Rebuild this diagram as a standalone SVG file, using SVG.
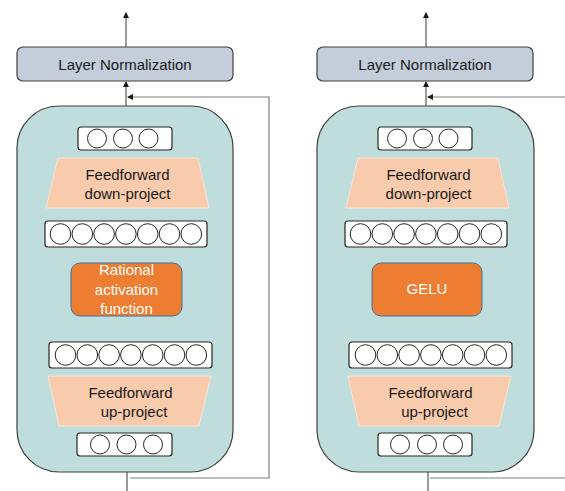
<svg xmlns="http://www.w3.org/2000/svg" width="565" height="491" viewBox="0 0 565 491">
<style>
.ln{fill:#c4cedb;stroke:#3f3f3f;stroke-width:1.2}
.panel{fill:#bedddc;stroke:#3f3f3f;stroke-width:1.2}
.vec{fill:#fff;stroke:#262626;stroke-width:1.2}
.c{fill:#fff;stroke:#262626;stroke-width:1}
.trap{fill:#f8cbad;stroke:#fbe5d6;stroke-width:1}
.act{fill:#ed7d31;stroke:#41719c;stroke-width:1}
.t{font-family:"Liberation Sans",Arial,sans-serif;font-size:15px;fill:#1a1a1a;text-anchor:middle}
.tw{font-family:"Liberation Sans",Arial,sans-serif;font-size:15px;fill:#fff;text-anchor:middle}
.arr{stroke:#595959;stroke-width:1.2;fill:none}
.res{stroke:#7f7f7f;stroke-width:1.2;fill:none}
</style>
<defs>
<marker id="ah" markerWidth="6" markerHeight="6" refX="5" refY="3" orient="auto" markerUnits="userSpaceOnUse">
<path d="M0,0 L6,3 L0,6 Z" fill="#1a1a1a"/>
</marker>
</defs>
<g id="connectors">
<line class="arr" x1="126" y1="47" x2="126" y2="13" marker-end="url(#ah)"/>
<line class="arr" x1="126" y1="127" x2="126" y2="82" marker-end="url(#ah)"/>
<line class="arr" x1="127" y1="491" x2="127" y2="458" marker-end="url(#ah)"/>
<polyline class="res" points="130,478 269,478 269,97 128,97" marker-end="url(#ah)"/>
<line class="arr" x1="426" y1="47" x2="426" y2="13" marker-end="url(#ah)"/>
<line class="arr" x1="426" y1="127" x2="426" y2="82" marker-end="url(#ah)"/>
<line class="arr" x1="428" y1="491" x2="428" y2="458" marker-end="url(#ah)"/>
<polyline class="res" points="565,97 428,97" marker-end="url(#ah)"/>
<line class="res" x1="430" y1="478" x2="565" y2="478"/>
</g>
<g id="ln-left"><rect class="ln" x="17" y="47" width="216" height="34" rx="6"/><text class="t" x="125" y="70">Layer Normalization</text></g>
<g id="ln-right"><rect class="ln" x="317" y="47" width="216" height="34" rx="6"/><text class="t" x="425" y="70">Layer Normalization</text></g>
<g id="panel-left"><rect class="panel" x="17" y="106" width="216" height="366" rx="42"/></g>
<g id="panel-right"><rect class="panel" x="317" y="106" width="217" height="366" rx="42"/></g>

<g id="out-left"><rect class="vec" x="78" y="127" width="94" height="23" rx="3"/>
<circle class="c" cx="97" cy="138.5" r="9.5"/><circle class="c" cx="123" cy="138.5" r="9.5"/><circle class="c" cx="148.5" cy="138.5" r="9.5"/></g>
<g id="down-left"><polygon class="trap" points="58,158 198,158 209,208 46,208"/>
<text class="t" x="127.5" y="180">Feedforward</text><text class="t" x="127.5" y="199">down-project</text></g>
<g id="hid2-left"><rect class="vec" x="45" y="221" width="162" height="26" rx="3"/>
<circle class="c" cx="60.5" cy="234" r="10.3"/><circle class="c" cx="82.3" cy="234" r="10.3"/><circle class="c" cx="104.1" cy="234" r="10.3"/><circle class="c" cx="125.9" cy="234" r="10.3"/><circle class="c" cx="147.7" cy="234" r="10.3"/><circle class="c" cx="169.5" cy="234" r="10.3"/><circle class="c" cx="191.3" cy="234" r="10.3"/></g>
<g id="act-left"><rect class="act" x="71" y="263" width="111" height="53" rx="9"/>
<text class="tw" x="126.5" y="275">Rational</text><text class="tw" x="126.5" y="295">activation</text><text class="tw" x="126.5" y="314">function</text></g>
<g id="hid1-left"><rect class="vec" x="49" y="342" width="163" height="26" rx="3"/>
<circle class="c" cx="65.5" cy="355" r="10.3"/><circle class="c" cx="87.3" cy="355" r="10.3"/><circle class="c" cx="109.1" cy="355" r="10.3"/><circle class="c" cx="130.9" cy="355" r="10.3"/><circle class="c" cx="152.7" cy="355" r="10.3"/><circle class="c" cx="174.5" cy="355" r="10.3"/><circle class="c" cx="196.3" cy="355" r="10.3"/></g>
<g id="up-left"><polygon class="trap" points="48,376 211,376 199,426 59,426"/>
<text class="t" x="130.5" y="398">Feedforward</text><text class="t" x="134" y="417">up-project</text></g>
<g id="in-left"><rect class="vec" x="77" y="433" width="95" height="23" rx="3"/>
<circle class="c" cx="100" cy="444.5" r="9.5"/><circle class="c" cx="126.5" cy="444.5" r="9.5"/><circle class="c" cx="153" cy="444.5" r="9.5"/></g>

<g id="out-right"><rect class="vec" x="378" y="127" width="94" height="23" rx="3"/>
<circle class="c" cx="397" cy="138.5" r="9.5"/><circle class="c" cx="423" cy="138.5" r="9.5"/><circle class="c" cx="448.5" cy="138.5" r="9.5"/></g>
<g id="down-right"><polygon class="trap" points="358,158 498,158 509,208 346,208"/>
<text class="t" x="428.5" y="180">Feedforward</text><text class="t" x="428.5" y="199">down-project</text></g>
<g id="hid2-right"><rect class="vec" x="345" y="221" width="162" height="26" rx="3"/>
<circle class="c" cx="360.5" cy="234" r="10.3"/><circle class="c" cx="382.3" cy="234" r="10.3"/><circle class="c" cx="404.1" cy="234" r="10.3"/><circle class="c" cx="425.9" cy="234" r="10.3"/><circle class="c" cx="447.7" cy="234" r="10.3"/><circle class="c" cx="469.5" cy="234" r="10.3"/><circle class="c" cx="491.3" cy="234" r="10.3"/></g>
<g id="act-right"><rect class="act" x="372" y="263" width="110" height="53" rx="9"/>
<text class="tw" x="427" y="294">GELU</text></g>
<g id="hid1-right"><rect class="vec" x="349" y="342" width="163" height="26" rx="3"/>
<circle class="c" cx="365.5" cy="355" r="10.3"/><circle class="c" cx="387.3" cy="355" r="10.3"/><circle class="c" cx="409.1" cy="355" r="10.3"/><circle class="c" cx="430.9" cy="355" r="10.3"/><circle class="c" cx="452.7" cy="355" r="10.3"/><circle class="c" cx="474.5" cy="355" r="10.3"/><circle class="c" cx="496.3" cy="355" r="10.3"/></g>
<g id="up-right"><polygon class="trap" points="348,376 511,376 499,426 359,426"/>
<text class="t" x="430.5" y="398">Feedforward</text><text class="t" x="434.5" y="417">up-project</text></g>
<g id="in-right"><rect class="vec" x="378" y="433" width="94" height="23" rx="3"/>
<circle class="c" cx="400" cy="444.5" r="9.5"/><circle class="c" cx="427" cy="444.5" r="9.5"/><circle class="c" cx="453" cy="444.5" r="9.5"/></g>
</svg>
